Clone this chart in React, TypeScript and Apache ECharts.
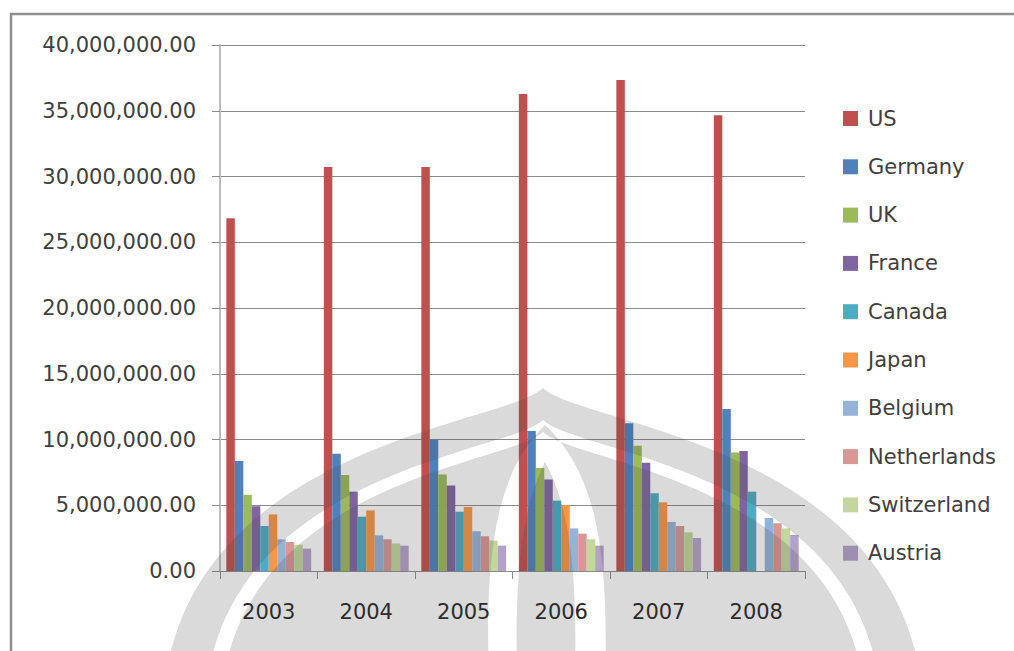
import React, { useEffect, useRef } from "react";
import * as echarts from "echarts";

// Categories (years) and per-country values
const years = ["2003", "2004", "2005", "2006", "2007", "2008"];
const countries = [
  "US",
  "Germany",
  "UK",
  "France",
  "Canada",
  "Japan",
  "Belgium",
  "Netherlands",
  "Switzerland",
  "Austria",
];
const us = [26820000, 30730000, 30730000, 36270000, 37340000, 34650000];
const germany = [8370000, 8920000, 9990000, 10650000, 11230000, 12320000];
const uk = [5790000, 7300000, 7330000, 7830000, 9530000, 9020000];
const france = [4930000, 6030000, 6510000, 6950000, 8240000, 9130000];
const canada = [3420000, 4130000, 4510000, 5350000, 5910000, 6030000];
const japan = [4300000, 4610000, 4870000, 5020000, 5220000, 0];
const belgium = [2400000, 2710000, 3020000, 3240000, 3730000, 4030000];
const netherlands = [2200000, 2410000, 2640000, 2840000, 3420000, 3630000];
const switzerland = [2000000, 2100000, 2310000, 2410000, 2940000, 3240000];
const austria = [1700000, 1930000, 1930000, 1930000, 2510000, 2740000];
const yTicks = { min: 0, max: 40000000, interval: 5000000 };

const seriesValues = [
  us,
  germany,
  uk,
  france,
  canada,
  japan,
  belgium,
  netherlands,
  switzerland,
  austria,
];
const palette = [
  "#C0504D",
  "#4F81BD",
  "#9BBB59",
  "#8064A2",
  "#4BACC6",
  "#F79646",
  "#95B3D7",
  "#D99694",
  "#C3D69B",
  "#B3A2C7",
];

// Onion outline with a pointed top; `cw` picks the winding so that
// nested outlines can cut rings out of the filled emblem.
function onion(cx: number, ty: number, w: number, by: number, cw: boolean) {
  const h = by - ty;
  const c1y = ty + 0.12 * h;
  const c2y = ty + 0.18 * h;
  if (cw) {
    return (
      `M ${cx} ${ty} ` +
      `C ${cx + 0.1 * w} ${c1y} ${cx + 0.95 * w} ${c2y} ${cx + w} ${by} ` +
      `L ${cx - w} ${by} ` +
      `C ${cx - 0.95 * w} ${c2y} ${cx - 0.1 * w} ${c1y} ${cx} ${ty} Z `
    );
  }
  return (
    `M ${cx} ${ty} ` +
    `C ${cx - 0.1 * w} ${c1y} ${cx - 0.95 * w} ${c2y} ${cx - w} ${by} ` +
    `L ${cx + w} ${by} ` +
    `C ${cx + 0.95 * w} ${c2y} ${cx + 0.1 * w} ${c1y} ${cx} ${ty} Z `
  );
}

// Faint emblem behind the lower half of the plot
const emblemPath =
  onion(543, 388, 380, 700, true) +
  onion(543, 420, 338, 700, false) +
  onion(543, 432, 322, 700, true) +
  // inner white ring around the central flame
  "M 545 425 C 500 470 482 540 490 700 L 604 700 C 612 540 592 470 545 425 Z " +
  "M 545 462 C 566 500 580 560 574 700 L 518 700 C 512 560 526 500 545 462 Z";

let registered = false;
function registerEmblem() {
  if (registered) return;
  echarts.graphic.registerShape(
    "emblem",
    echarts.graphic.extendPath(emblemPath, {}) as any
  );
  registered = true;
}

function formatNumber(v: number) {
  return v.toLocaleString("en-US", {
    minimumFractionDigits: 2,
    maximumFractionDigits: 2,
  });
}

export default function App() {
  const ref = useRef<HTMLDivElement>(null);

  useEffect(() => {
    if (!ref.current) return;
    registerEmblem();
    const chart = echarts.init(ref.current, null, { renderer: "svg" });

    const series = countries.map((name, i) => ({
      name,
      type: "bar" as const,
      data: seriesValues[i],
      barGap: "0%",
      barCategoryGap: "13%",
      itemStyle: { color: palette[i] },
    }));

    chart.setOption({
      animation: false,
      backgroundColor: "#ffffff",
      color: palette,
      grid: { left: 220, right: 209, top: 45, bottom: 80 },
      legend: {
        orient: "vertical",
        left: 838,
        top: 103,
        icon: "rect",
        itemWidth: 15,
        itemHeight: 15,
        itemGap: 27.3,
        data: countries,
        textStyle: {
          fontFamily: "DejaVu Sans",
          fontSize: 21,
          color: "#404040",
          lineHeight: 21,
          padding: [0, 0, 0, 5],
        },
      },
      xAxis: {
        type: "category",
        data: years,
        axisLine: { show: true, lineStyle: { color: "#8c8c8c", width: 1 } },
        axisTick: {
          show: true,
          length: 8,
          lineStyle: { color: "#8c8c8c" },
        },
        axisLabel: {
          margin: 30,
          fontFamily: "DejaVu Sans",
          fontSize: 21,
          color: "#262626",
        },
      },
      yAxis: {
        type: "value",
        min: yTicks.min,
        max: yTicks.max,
        interval: yTicks.interval,
        axisLine: { show: true, lineStyle: { color: "#bdbdbd", width: 2 } },
        axisTick: {
          show: true,
          length: 8,
          lineStyle: { color: "#8c8c8c" },
        },
        splitLine: { show: true, lineStyle: { color: "#8a8a8a", width: 1 } },
        axisLabel: {
          margin: 24,
          fontFamily: "DejaVu Sans",
          fontSize: 21,
          color: "#404040",
          formatter: (v: number) => formatNumber(v),
        },
      },
      graphic: [
        {
          type: "rect",
          silent: true,
          z: 100,
          shape: { x: 11, y: 14, width: 1100, height: 800 },
          style: { fill: "none", stroke: "#8e8e8e", lineWidth: 2.5 },
        },
        {
          type: "emblem",
          silent: true,
          z: 90,
          x: 0,
          y: 0,
          style: { fill: "rgba(70,70,70,0.2)", stroke: "none" },
        },
      ],
      series,
    });

    return () => {
      chart.dispose();
    };
  }, []);

  return (
    <div
      ref={ref}
      style={{
        position: "fixed",
        left: 0,
        top: 0,
        width: 1014,
        height: 651,
      }}
    />
  );
}
